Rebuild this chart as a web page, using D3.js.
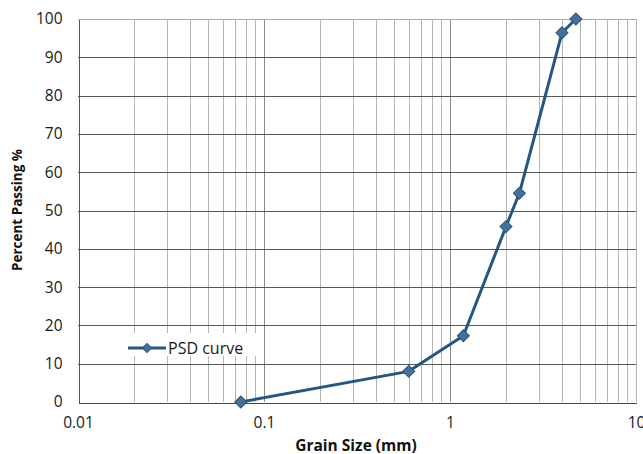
<!DOCTYPE html>
<html>
<head>
<meta charset="utf-8">
<script src="https://cdn.jsdelivr.net/npm/d3@7"></script>
<style>
  html, body { margin: 0; padding: 0; background: #fff; }
  svg { display: block; }
</style>
</head>
<body>
<svg id="chart" width="643" height="454"></svg>
<script>
// Sieve analysis: grain size (mm) vs cumulative percent passing
const grainSizes = [0.075, 0.6, 1.18, 2.0, 2.36, 4.0, 4.75];
const percentPassing = [0, 8, 17.3, 45.8, 54.5, 96.4, 100];
const xTickValues = [0.01, 0.1, 1, 10];
const xTickLabels = ["0.01", "0.1", "1", "10"];
const yTickValues = [0, 10, 20, 30, 40, 50, 60, 70, 80, 90, 100];
const seriesName = "PSD curve";
const xTitle = "Grain Size (mm)";
const yTitle = "Percent Passing %";

const svg = d3.select("#chart");
const plot = { left: 78, right: 636, top: 19, bottom: 402 };

const x = d3.scaleLog().domain([0.01, 10]).range([plot.left, plot.right]);
const y = d3.scaleLinear().domain([0, 100]).range([plot.bottom, plot.top]);

const font = "'Open Sans', 'Liberation Sans', sans-serif";

// vertical grid: minor lines at 2..9 of each decade, majors at decades
const minor = [];
for (let d = 0.01; d < 10; d *= 10) {
  for (let k = 2; k <= 9; k++) minor.push(+(d * k).toPrecision(3));
}
const grid = svg.append("g").attr("shape-rendering", "crispEdges");
grid.selectAll(".vminor").data(minor).join("line")
  .attr("x1", d => Math.round(x(d)) + 0.5).attr("x2", d => Math.round(x(d)) + 0.5)
  .attr("y1", plot.top).attr("y2", plot.bottom)
  .attr("stroke", "#b4b4b4").attr("stroke-width", 1);
grid.selectAll(".vmajor").data([0.1, 1, 10]).join("line")
  .attr("x1", d => Math.round(x(d)) + 0.5).attr("x2", d => Math.round(x(d)) + 0.5)
  .attr("y1", plot.top).attr("y2", plot.bottom)
  .attr("stroke", d => d === 10 ? "#b4b4b4" : "#8c8c8c").attr("stroke-width", 1);

// horizontal grid
grid.selectAll(".h").data(yTickValues.filter(v => v > 0)).join("line")
  .attr("x1", plot.left).attr("x2", plot.right)
  .attr("y1", d => Math.round(y(d)) + 0.5).attr("y2", d => Math.round(y(d)) + 0.5)
  .attr("stroke", d => d === 100 ? "#a8a8a8" : "#585858").attr("stroke-width", 1);

// legend background box hides gridlines behind it
const legend = svg.append("g");
legend.append("rect")
  .attr("x", 118).attr("y", 333).attr("width", 144).attr("height", 23)
  .attr("fill", "#fff");

// axes
const yAxis = d3.axisLeft(y).tickValues(yTickValues).tickSize(0).tickPadding(16);
const yg = svg.append("g").attr("transform", `translate(${plot.left + 0.5},0)`).call(yAxis);
yg.select(".domain").attr("stroke", "#555").attr("shape-rendering", "crispEdges");
yg.selectAll("text").attr("font-family", font).attr("font-size", 15.5).attr("fill", "#1a1a1a");

const xAxis = d3.axisBottom(x).tickValues(xTickValues)
  .tickFormat((d, i) => xTickLabels[i]).tickSize(0).tickPadding(14);
const xg = svg.append("g").attr("transform", `translate(0,${plot.bottom + 0.5})`).call(xAxis);
xg.select(".domain").attr("stroke", "#444").attr("shape-rendering", "crispEdges");
xg.selectAll("text").attr("font-family", font).attr("font-size", 15.5).attr("fill", "#1a1a1a");

// axis titles
svg.append("text")
  .attr("x", 356).attr("y", 451)
  .attr("text-anchor", "middle")
  .attr("font-family", font).attr("font-weight", "bold").attr("font-size", 15.5)
  .attr("fill", "#111")
  .text(xTitle);
svg.append("text")
  .attr("transform", "translate(22,210) rotate(-90)")
  .attr("text-anchor", "middle")
  .attr("font-family", font).attr("font-weight", "bold").attr("font-size", 13.5)
  .attr("fill", "#111")
  .text(yTitle);

// data series
const points = grainSizes.map((g, i) => ({ g, p: percentPassing[i] }));
const lineColor = "#225783";
const markerFill = "#44709a";
const markerStroke = "#2b5680";

svg.append("path")
  .datum(points)
  .attr("fill", "none")
  .attr("stroke", lineColor)
  .attr("stroke-width", 3)
  .attr("stroke-linejoin", "round")
  .attr("d", d3.line().x(d => x(d.g)).y(d => y(d.p)));

const diamond = d3.symbol().type(d3.symbolSquare).size(72);
svg.selectAll(".marker").data(points).join("path")
  .attr("transform", d => `translate(${x(d.g)},${y(d.p)}) rotate(45)`)
  .attr("d", diamond)
  .attr("fill", markerFill)
  .attr("stroke", markerStroke)
  .attr("stroke-width", 1);

// legend entry
legend.append("line")
  .attr("x1", 128).attr("x2", 166).attr("y1", 348).attr("y2", 348)
  .attr("stroke", lineColor).attr("stroke-width", 3);
legend.append("path")
  .attr("transform", "translate(147,348) rotate(45)")
  .attr("d", d3.symbol().type(d3.symbolSquare).size(40))
  .attr("fill", markerFill).attr("stroke", markerStroke).attr("stroke-width", 1);
legend.append("text")
  .attr("x", 168).attr("y", 353.5)
  .attr("font-family", font).attr("font-size", 16).attr("fill", "#1a1a1a")
  .text(seriesName);
</script>
</body>
</html>
